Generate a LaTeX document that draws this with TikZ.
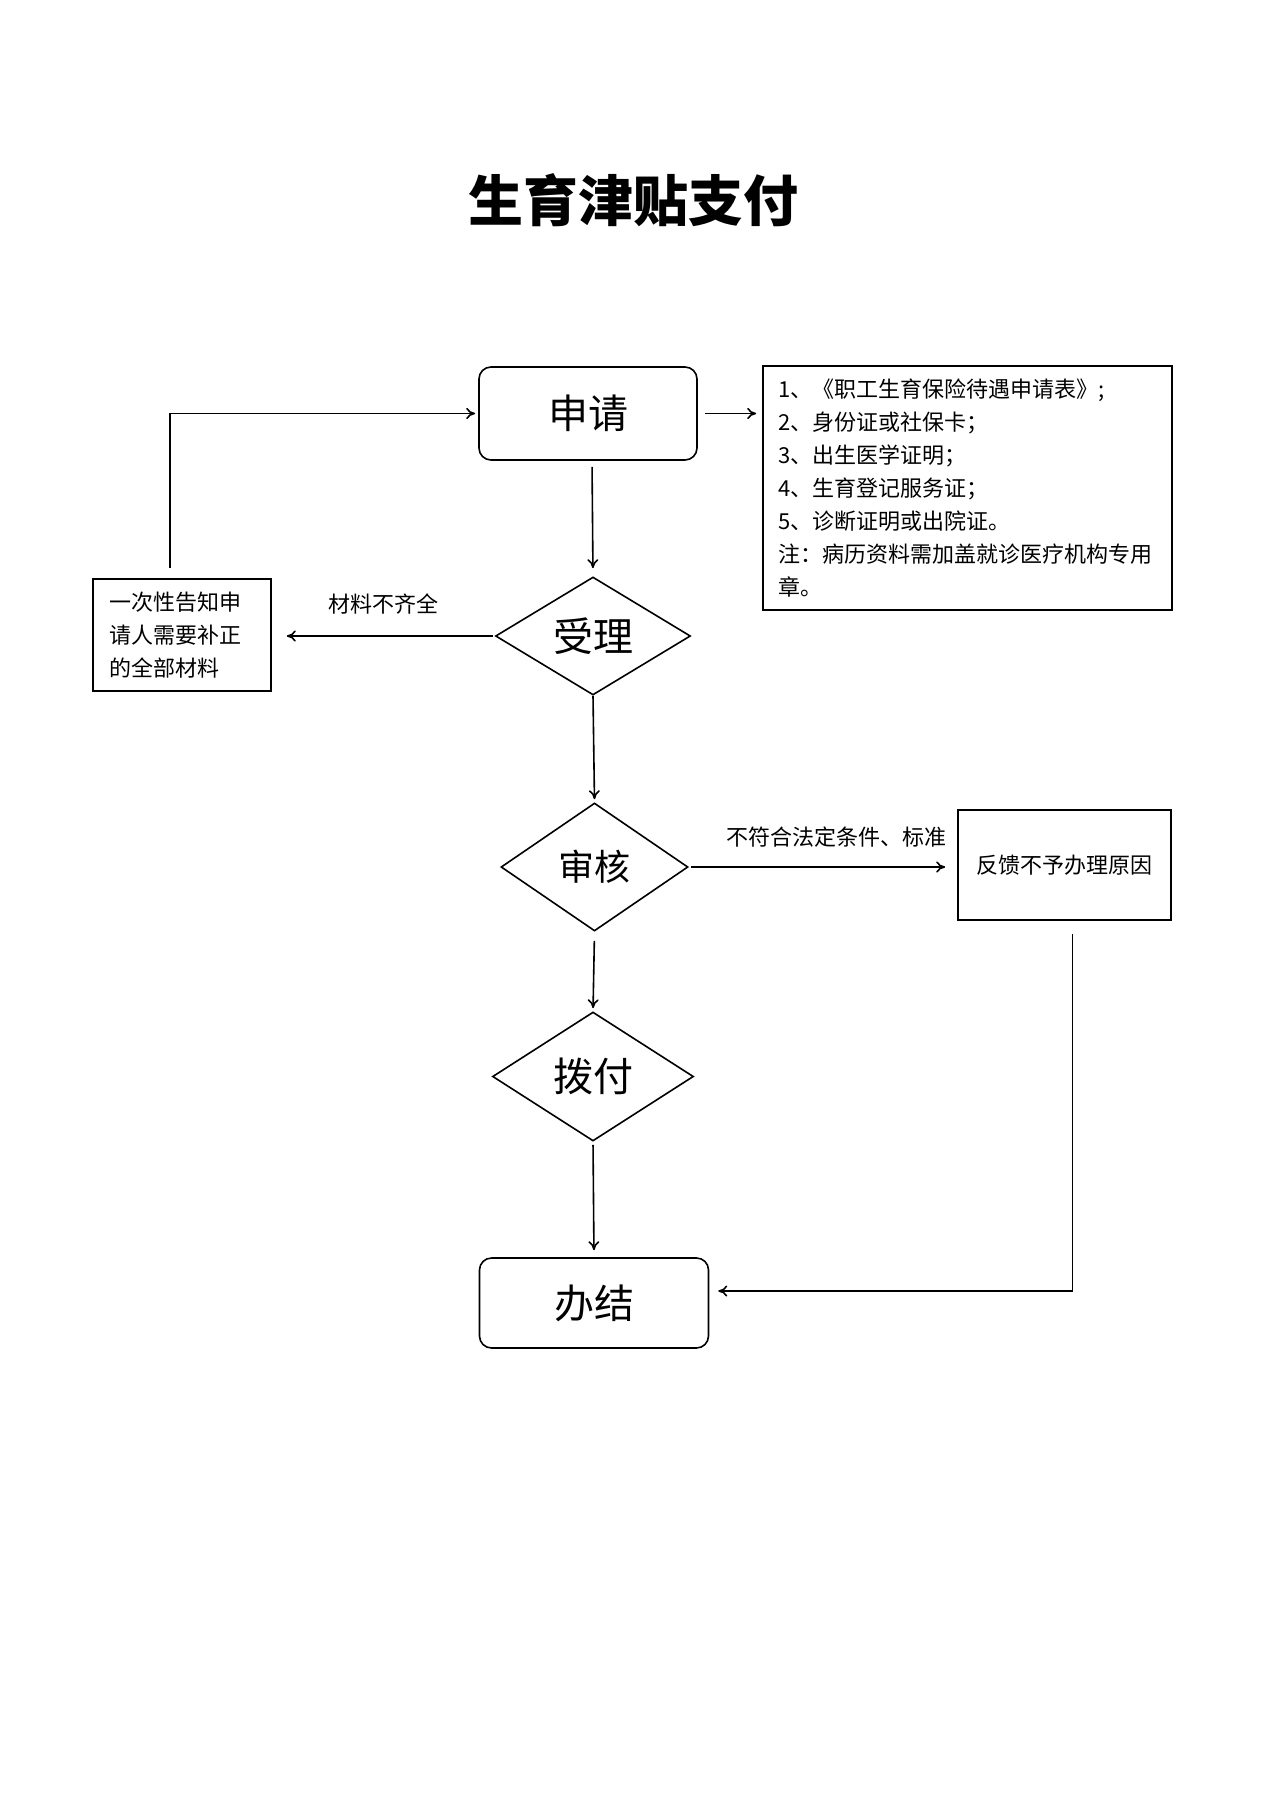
\documentclass[tikz,border=0pt]{standalone}
\usepackage{fontspec}
\setmainfont{Noto Sans CJK SC}
\usetikzlibrary{shapes.geometric,arrows.meta}

\tikzset{every picture/.style={line width=1.6pt}}

\begin{document}
\begin{tikzpicture}[x=1pt,y=1pt,yscale=-1,xscale=1,
  arr/.style={-{To[length=9pt,width=11pt]}},
  rbox/.style={draw,rounded corners=12pt,font=\fontsize{40}{44}\selectfont},
  sbox/.style={draw,font=\fontsize{22}{33}\selectfont},
  dia/.style={draw,diamond,aspect=1.6,inner sep=0pt,font=\fontsize{40}{44}\selectfont},
  lbl/.style={font=\fontsize{22}{26}\selectfont}]
\useasboundingbox (0,0) rectangle (1269,1795);

% Text Node
\node (title) at (633,200) {\fontsize{55}{60}\selectfont\bfseries 生育津贴支付};

%Rounded Rect
\node [rbox, minimum width=218pt, minimum height=93pt] (shen) at (588,413.5) {申请};
%Shape: Rectangle
\node [sbox, minimum width=409pt, minimum height=244pt, text width=379pt, align=left] (info) at (967.5,488)
  {1、《职工生育保险待遇申请表》;\\
   2、身份证或社保卡；\\
   3、出生医学证明；\\
   4、生育登记服务证；\\
   5、诊断证明或出院证。\\
   注：病历资料需加盖就诊医疗机构专用\\
   章。};
%Shape: Diamond
\node [dia, minimum width=195pt, minimum height=118pt] (shouli) at (593,636) {受理};
%Shape: Rectangle
\node [sbox, minimum width=178pt, minimum height=112pt, text width=146pt, align=left] (notice) at (182,635)
  {一次性告知申\\请人需要补正\\的全部材料};
%Shape: Diamond
\node [dia, minimum width=187pt, minimum height=128pt, font=\fontsize{36}{40}\selectfont] (shenhe) at (594.5,867) {审核};
%Shape: Rectangle
\node [sbox, minimum width=213pt, minimum height=110pt] (fankui) at (1064.5,865) {反馈不予办理原因};
%Shape: Diamond
\node [dia, minimum width=201pt, minimum height=129pt] (bofu) at (593,1076.5) {拨付};
%Rounded Rect
\node [rbox, minimum width=229pt, minimum height=90pt] (banjie) at (594,1303) {办结};

%Straight Lines
\draw [arr, shorten <=6pt, shorten >=8pt] ([xshift=4pt]shen.south) -- (shouli.north);
\draw [arr, shorten <=7pt, shorten >=6pt] (shen.east) -- (shen.east -| info.west);
\draw [arr, shorten <=2pt, shorten >=15pt] (shouli.west) -- (shouli.west -| notice.east)
  node [lbl, midway, above=18pt] (lblA) {材料不齐全};
\draw [arr, shorten <=10pt, shorten >=3pt] ([xshift=-12pt]notice.north) |- (shen.west);
\draw [arr, shorten >=3pt] (shouli.south) -- (shenhe.north);
\draw [arr, shorten <=2pt, shorten >=12pt] (shenhe.east) -- (shenhe.east -| fankui.west)
  node [lbl, pos=0.55, above=16pt] (lblB) {不符合法定条件、标准};
\draw [arr, shorten <=9pt, shorten >=3pt] (shenhe.south) -- (bofu.north);
\draw [arr, shorten <=3pt, shorten >=7pt] (bofu.south) -- (banjie.north);
\draw [arr, shorten <=13pt, shorten >=9pt] ([xshift=8pt]fankui.south) |- ([yshift=-12pt]banjie.east);

\end{tikzpicture}
\end{document}
